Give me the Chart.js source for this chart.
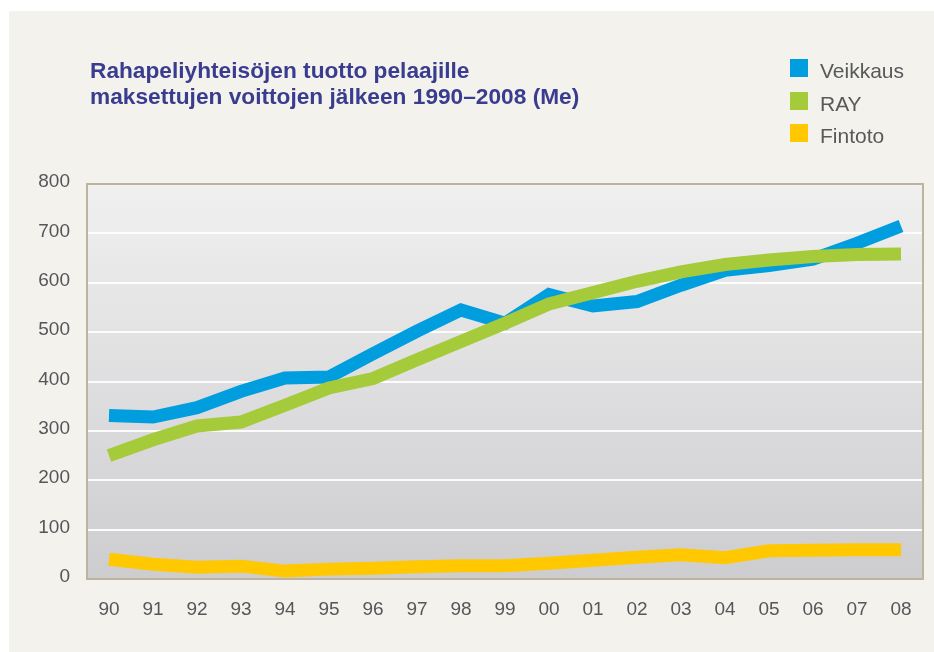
<!DOCTYPE html>
<html>
<head>
<meta charset="utf-8">
<script src="https://cdn.jsdelivr.net/npm/chart.js@4.4.1/dist/chart.umd.min.js"></script>
<style>
html, body { margin: 0; padding: 0; background: #fff; }
#wrap { position: relative; width: 934px; height: 652px; overflow: hidden; }
#panel { position: absolute; left: 9px; top: 11px; right: 0; bottom: 0; background: #f3f2ed; }
#plot { position: absolute; left: 0; top: 0; }
#title { position: absolute; left: 90px; top: 57px; font: bold 22.7px 'Liberation Sans', Arial, sans-serif; line-height: 26px; color: #3a3d8f; margin: 0; }
#legend { position: absolute; left: 790px; top: 55px; font: 21px 'Liberation Sans', Arial, sans-serif; line-height: 32.5px; color: #58595b; }
#legend div { position: relative; padding-left: 30px; }
#legend span { position: absolute; left: 0; top: 4px; width: 18px; height: 18px; }
</style>
</head>
<body>
<div id="wrap">
  <div id="panel"></div>
  <canvas id="plot" width="934" height="652"></canvas>
  <h1 id="title">Rahapeliyhteisöjen tuotto pelaajille<br>maksettujen voittojen jälkeen 1990–2008 (Me)</h1>
  <div id="legend"></div>
</div>
<script>
// vuodet 1990-2008
let years = ['90', '91', '92', '93', '94', '95', '96', '97', '98', '99',
             '00', '01', '02', '03', '04', '05', '06', '07', '08']

let veikkaus = [331, 328, 347, 380, 407, 409, 456, 502, 545, 518, 576, 553, 562, 595, 625, 635, 648, 680, 715]
let ray      = [250, 282, 310, 318, 352, 387, 406, 444, 481, 518, 557, 580, 603, 622, 637, 646, 653, 657, 658]
let fintoto  = [40, 30, 24, 26, 16, 20, 22, 25, 27, 27, 32, 38, 44, 49, 43, 57, 58, 59, 59]

let series_names = ['Veikkaus', 'RAY', 'Fintoto']
let series_colors = ['rgb(0,158,222)', 'rgb(165,202,58)', 'rgb(255,200,0)']

let plot_bg = {
    id: 'plot_bg',
    beforeDraw(chart) {
        let a = chart.chartArea
        let ctx = chart.ctx
        let g = ctx.createLinearGradient(0, a.top, 0, a.bottom)
        g.addColorStop(0, '#f0f0f0')
        g.addColorStop(1, '#cdcdd0')
        ctx.save()
        ctx.fillStyle = g
        ctx.fillRect(a.left, a.top, a.right - a.left, a.bottom - a.top)
        ctx.restore()
    },
    beforeDatasetsDraw(chart) {
        let a = chart.chartArea
        let ctx = chart.ctx
        ctx.save()
        ctx.strokeStyle = '#bcb49e'
        ctx.lineWidth = 2
        ctx.strokeRect(a.left, a.top, a.right - a.left, a.bottom - a.top)
        ctx.restore()
    }
}

function make_legend() {
    let el = document.getElementById('legend')
    series_names.forEach((n, i) => {
        let d = document.createElement('div')
        d.innerHTML = '<span style="background:' + series_colors[i] + '"></span>' + n
        el.appendChild(d)
    })
}

function line_ds(label, data, color, order) {
    return {
        label: label,
        data: data,
        borderColor: color,
        backgroundColor: color,
        borderWidth: 13,
        borderCapStyle: 'butt',
        borderJoinStyle: 'miter',
        pointRadius: 0,
        tension: 0,
        fill: false,
        order: order
    }
}

document.addEventListener('DOMContentLoaded', () => {
    Chart.defaults.font.family = "'Liberation Sans', Arial, sans-serif"
    Chart.defaults.color = '#555659'
    make_legend()

    new Chart(document.getElementById('plot'), {
        type: 'line',
        data: {
            labels: years,
            datasets: [
                line_ds(series_names[0], veikkaus, series_colors[0], 2),
                line_ds(series_names[1], ray, series_colors[1], 1),
                line_ds(series_names[2], fintoto, series_colors[2], 3)
            ]
        },
        options: {
            responsive: false,
            animation: false,
            layout: { padding: { left: 0, top: 184, right: 11, bottom: 0 } },
            plugins: { legend: { display: false }, tooltip: { enabled: false } },
            scales: {
                x: {
                    offset: true,
                    grid: { display: false },
                    border: { display: false },
                    ticks: { font: { size: 19 }, padding: 11, maxRotation: 0, autoSkip: false },
                    afterFit(s) { s.height = 73 }
                },
                y: {
                    min: 0,
                    max: 800,
                    grid: { color: 'rgba(255,255,255,0.9)', lineWidth: 2, drawTicks: false },
                    border: { display: false },
                    ticks: { stepSize: 100, font: { size: 19 }, padding: 17, labelOffset: -2 },
                    afterFit(s) { s.width = 87 }
                }
            }
        },
        plugins: [plot_bg]
    })
})
</script>
</body>
</html>
